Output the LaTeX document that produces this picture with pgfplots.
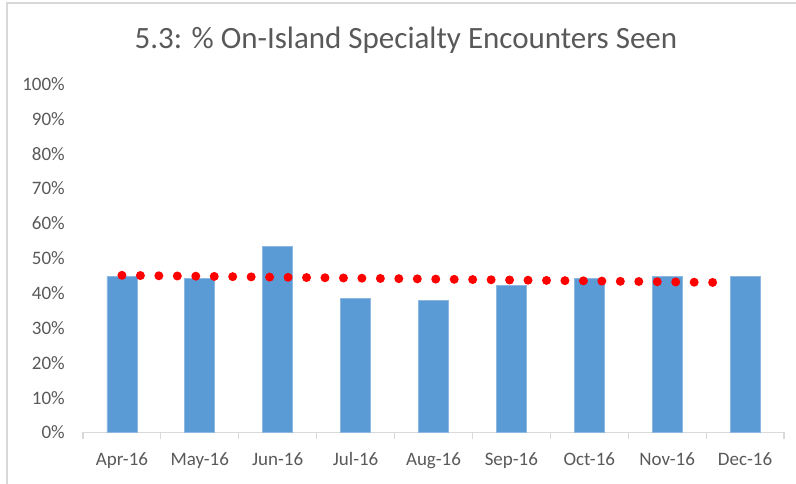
\documentclass[border=0pt]{standalone}
\usepackage{fontspec}
\setmainfont{Carlito}
\usepackage{pgfplots}
\pgfplotsset{compat=1.18}
\definecolor{barblue}{HTML}{5B9BD5}
\definecolor{baredge}{HTML}{8DB8E2}
\definecolor{txtgray}{HTML}{595959}
\definecolor{axgray}{HTML}{D9D9D9}
\begin{document}
\begin{tikzpicture}
\path[use as bounding box] (0bp,0bp) rectangle (796bp,484bp);
\draw[axgray, line width=1.2bp] (7bp,0bp) -- (7bp,481bp) -- (796bp,481bp);
\node[anchor=base, text=txtgray, inner sep=0pt, font=\fontsize{31bp}{36bp}\selectfont] at (406bp,435bp) {5.3: \% On-Island Specialty Encounters Seen};
\begin{axis}[
  at={(83bp,51.5bp)}, anchor=south west,
  scale only axis, width=701bp, height=348.5bp,
  xmin=-0.5, xmax=8.5, ymin=0, ymax=100,
  axis x line*=bottom, axis y line*=left,
  y axis line style={draw=none},
  x axis line style={axgray, line width=1.2bp, -},
  ytick={0,10,...,100},
  yticklabel={\pgfmathprintnumber{\tick}\%},
  /pgf/number format/assume math mode=true,
  ytick style={draw=none},
  xtick={0,...,8},
  xticklabels={Apr-16,May-16,Jun-16,Jul-16,Aug-16,Sep-16,Oct-16,Nov-16,Dec-16},
  major tick length=0pt,
  minor xtick={-0.5,0.5,...,8.5},
  minor tick length=7bp,
  tick align=outside,
  minor x tick style={axgray, line width=1.2bp},
  tick label style={text=txtgray, font=\fontsize{19bp}{22bp}\selectfont, inner sep=0pt},
  yticklabel style={anchor=east, xshift=-18bp},
  xticklabel style={anchor=base, yshift=-33bp},
  clip=false,
]
\addplot[ybar, bar width=30bp, fill=barblue, draw=baredge, line width=0.8bp]
  coordinates {(0,44.8) (1,44.3) (2,53.3) (3,38.5) (4,37.8) (5,42.1) (6,44.3) (7,44.8) (8,44.8)};
\addplot[red, line width=9bp, line cap=round, dash pattern=on 0bp off 18.46bp, mark=none]
  coordinates {(0,45.1) (7.82,43.0)};
\end{axis}
\end{tikzpicture}
\end{document}
